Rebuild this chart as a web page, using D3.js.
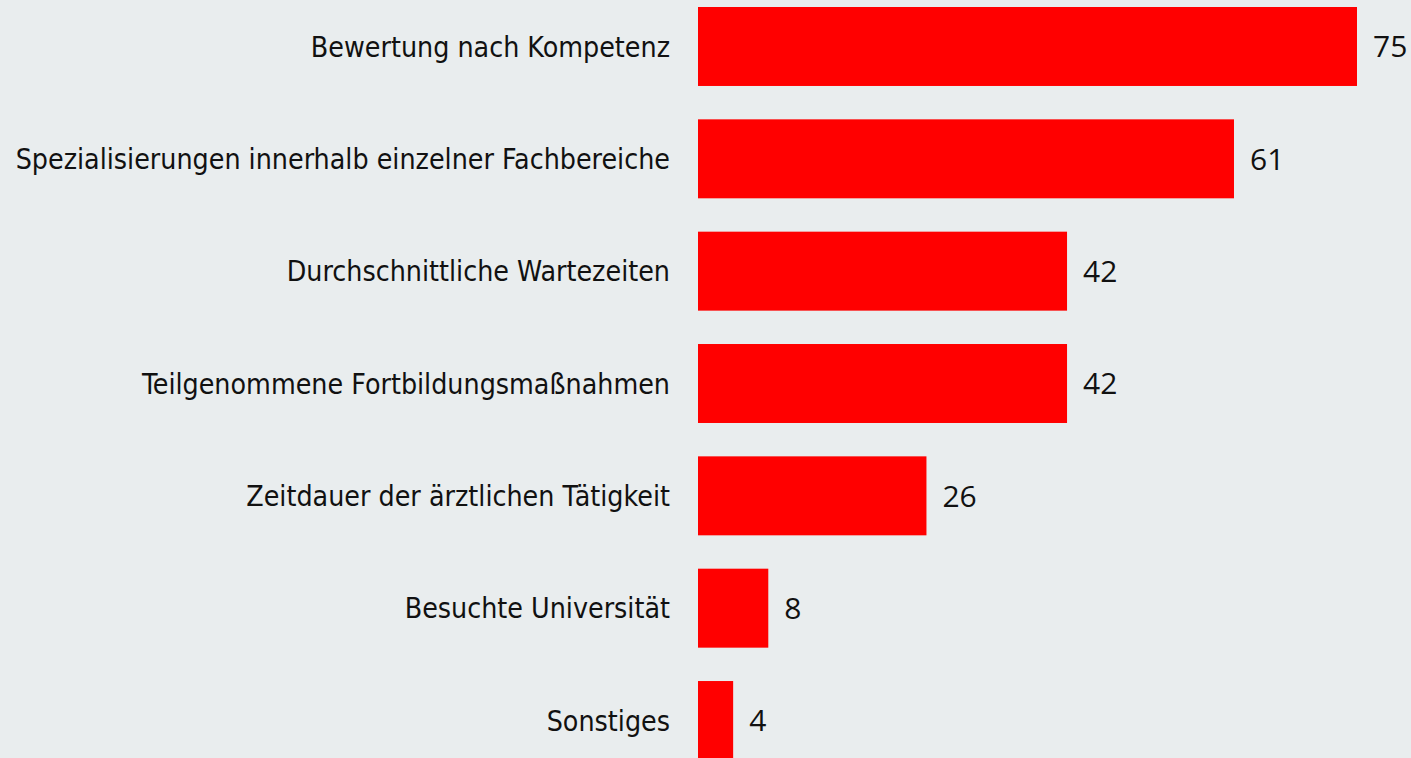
<!DOCTYPE html>
<html>
<head>
<meta charset="utf-8">
<script src="https://cdn.jsdelivr.net/npm/d3@7"></script>
<style>
  html, body { margin: 0; padding: 0; background: #e9edee; overflow: hidden; }
</style>
</head>
<body>
<svg id="chart"></svg>
<script>
const categories = [
  "Bewertung nach Kompetenz",
  "Spezialisierungen innerhalb einzelner Fachbereiche",
  "Durchschnittliche Wartezeiten",
  "Teilgenommene Fortbildungsmaßnahmen",
  "Zeitdauer der ärztlichen Tätigkeit",
  "Besuchte Universität",
  "Sonstiges"
];
const values = [75, 61, 42, 42, 26, 8, 4];

const width = 1411, height = 758;

const svg = d3.select("#chart")
  .attr("width", width)
  .attr("height", height);

svg.append("rect")
  .attr("width", width)
  .attr("height", height)
  .attr("fill", "#e9edee");

const x = d3.scaleLinear()
  .domain([0, 75])
  .range([698, 1357]);

const y = d3.scaleBand()
  .domain(categories)
  .range([7, 760])
  .paddingInner(0.297)
  .paddingOuter(0);

const data = categories.map((c, i) => ({ name: c, value: values[i] }));

// bars
svg.append("g")
  .selectAll("rect")
  .data(data)
  .enter()
  .append("rect")
  .attr("x", x(0))
  .attr("y", d => y(d.name))
  .attr("width", d => x(d.value) - x(0))
  .attr("height", y.bandwidth())
  .attr("fill", "#ff0000");

// category labels
svg.append("g")
  .selectAll("text")
  .data(data)
  .enter()
  .append("text")
  .attr("x", 670)
  .attr("y", d => y(d.name) + y.bandwidth() / 2)
  .attr("dy", "0.36em")
  .attr("text-anchor", "end")
  .style("font-family", "'DejaVu Sans Condensed', 'DejaVu Sans', sans-serif")
  .style("font-size", "28.3px")
  .attr("fill", "#111")
  .text(d => d.name);

// value labels
svg.append("g")
  .selectAll("text")
  .data(data)
  .enter()
  .append("text")
  .attr("x", d => x(d.value) + 16)
  .attr("y", d => y(d.name) + y.bandwidth() / 2)
  .attr("dy", "0.36em")
  .style("font-family", "'Open Sans', sans-serif")
  .style("font-size", "30px")
  .attr("fill", "#111")
  .text(d => d.value);
</script>
</body>
</html>
